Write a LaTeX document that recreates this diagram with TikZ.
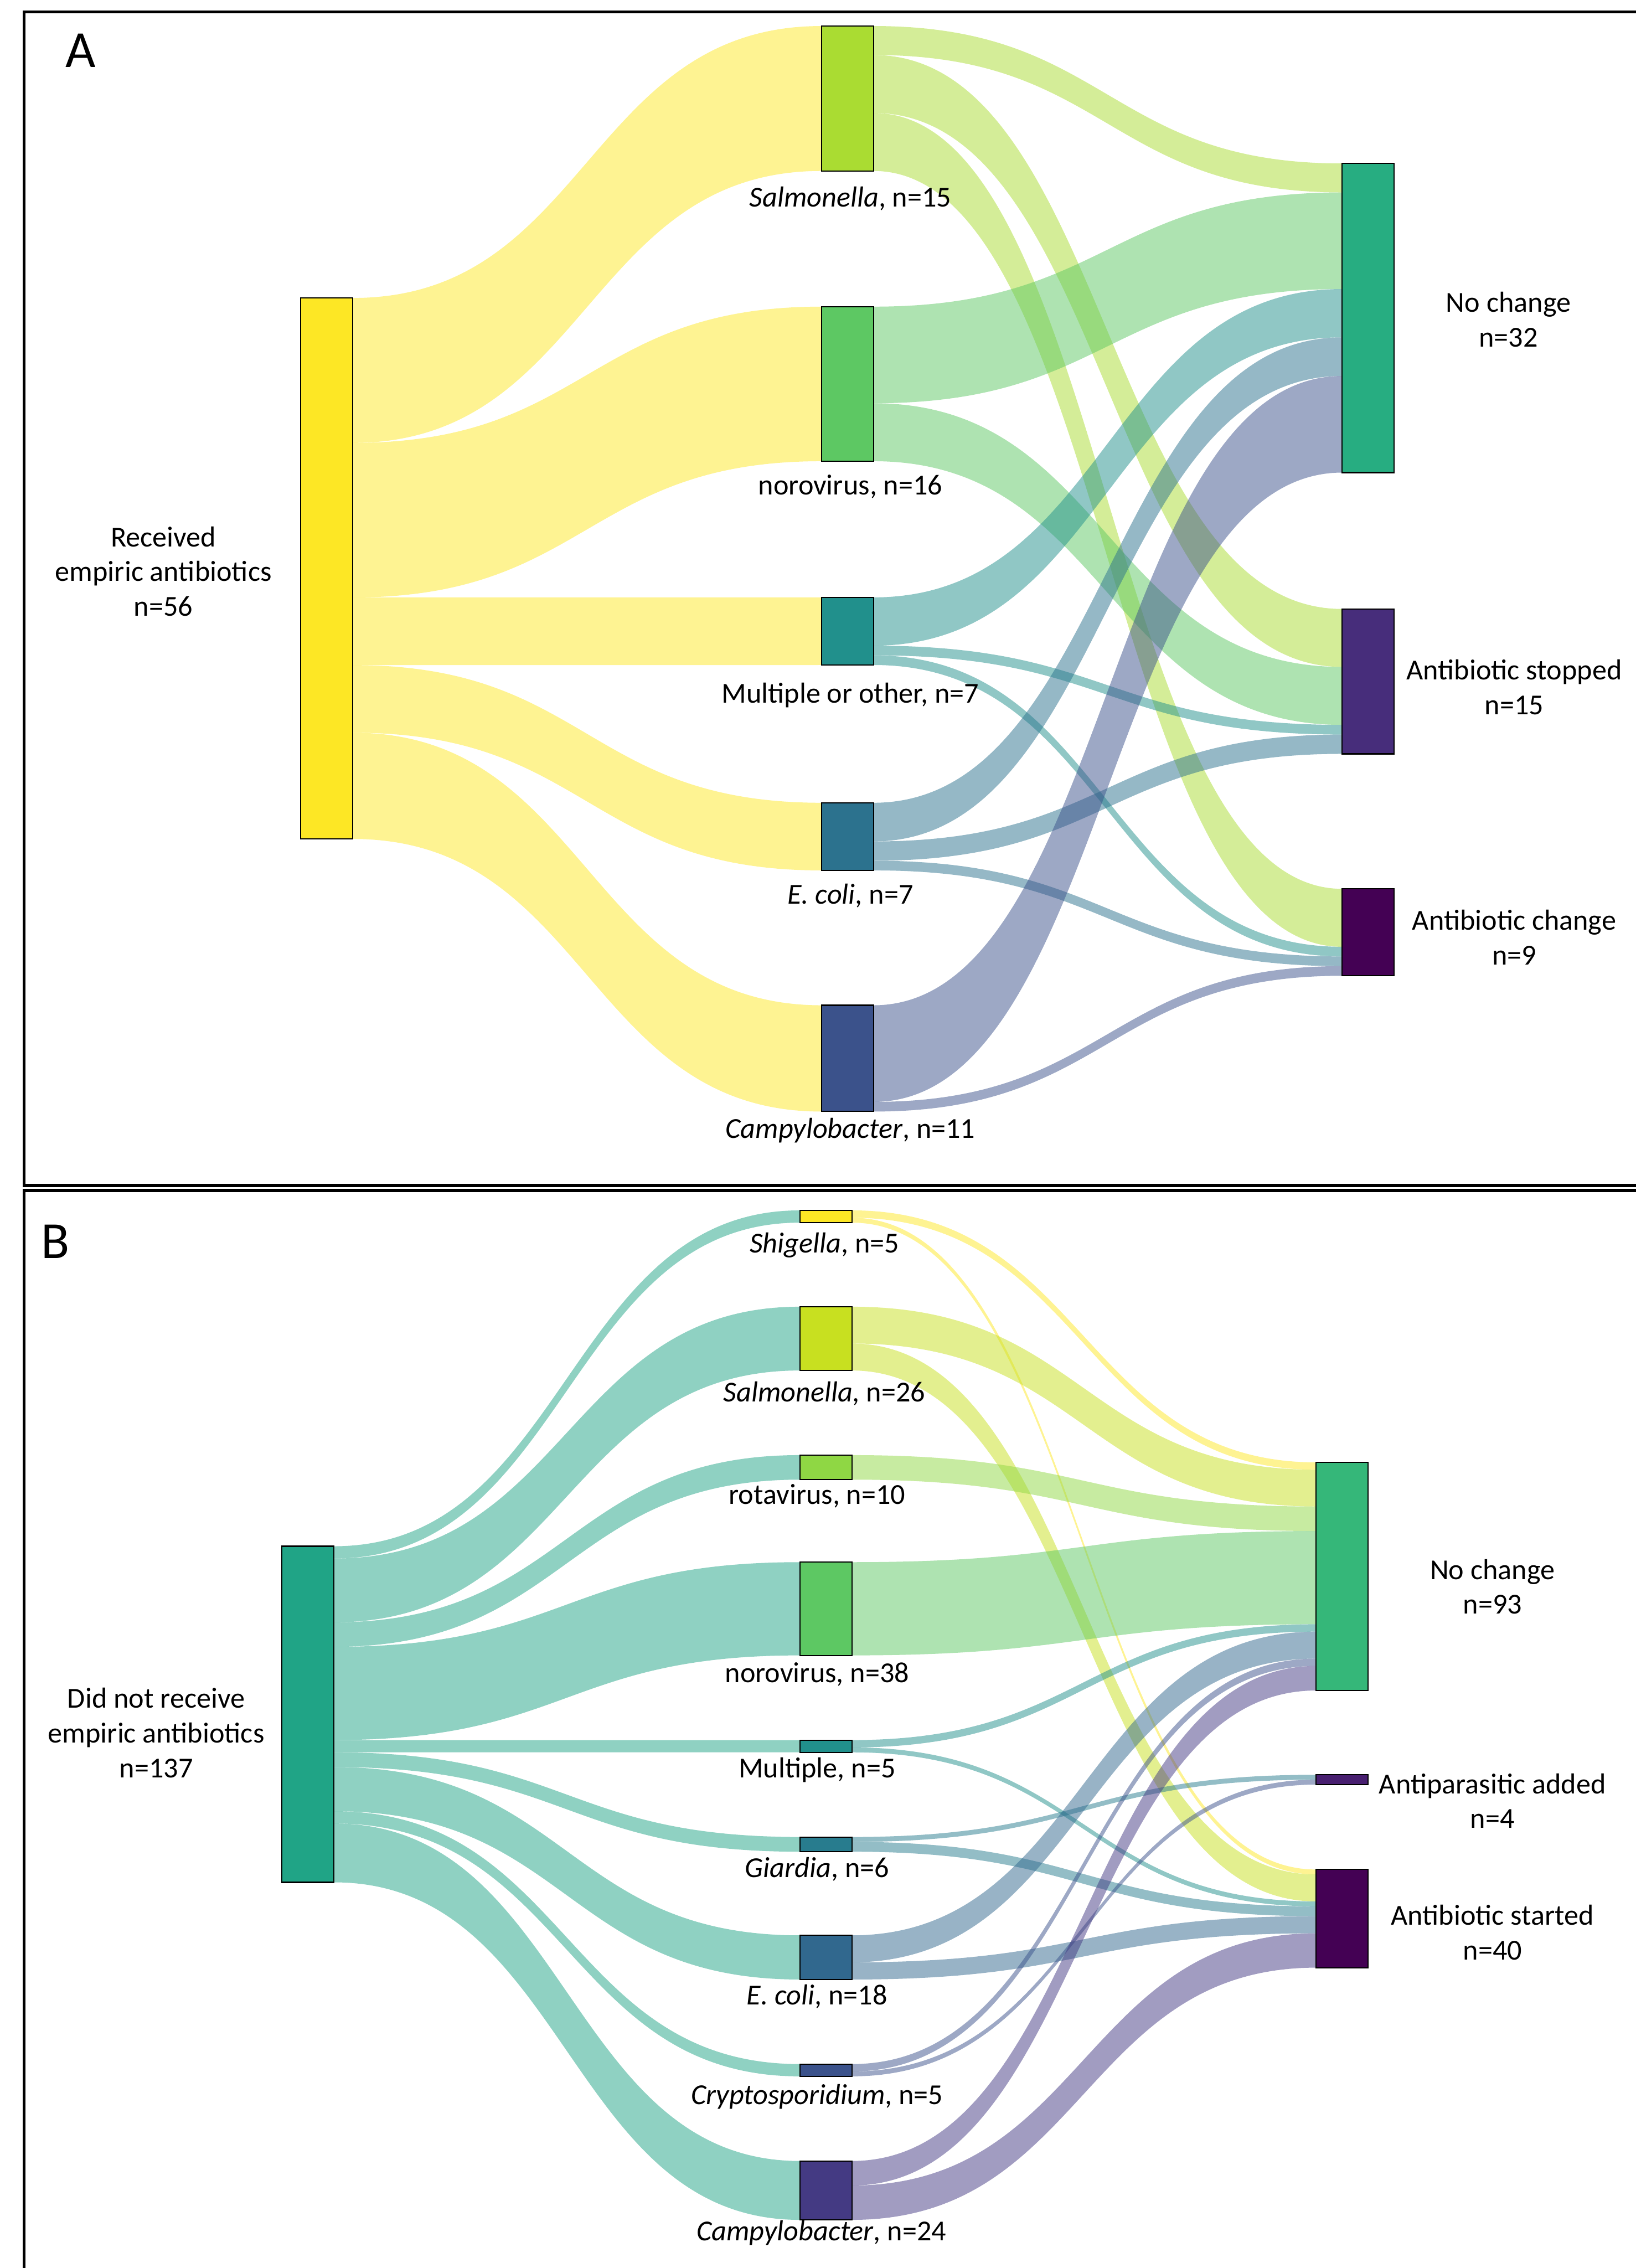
\documentclass[tikz,border=0pt]{standalone}
\usepackage{fontspec}
\setmainfont{Carlito}
\usetikzlibrary{calc,backgrounds}
\definecolor{VdYellow}{HTML}{FDE725}
\definecolor{VdLime}{HTML}{AADC32}
\definecolor{VdGrass}{HTML}{5DC863}
\definecolor{VdTeal}{HTML}{21908C}
\definecolor{VdSteel}{HTML}{2C728E}
\definecolor{VdBlue}{HTML}{3B528B}
\definecolor{VdSea}{HTML}{27AD81}
\definecolor{VdIndigo}{HTML}{472D7B}
\definecolor{VdPlum}{HTML}{440154}
\definecolor{VdPear}{HTML}{C8E020}
\definecolor{VdLeaf}{HTML}{8FD744}
\definecolor{VdPetrol}{HTML}{287C8E}
\definecolor{VdDenim}{HTML}{31688E}
\definecolor{VdViolet}{HTML}{443A83}
\definecolor{VdMint}{HTML}{20A486}
\definecolor{VdGreen}{HTML}{35B779}
\definecolor{VdGrape}{HTML}{481F70}
\tikzset{
  sbar/.style={draw=black,line width=0.8pt,fill=#1,minimum width=36pt,inner sep=0pt,outer sep=0pt,anchor=north west},
  lbl/.style={font=\fontsize{20}{24}\selectfont,inner sep=0pt,text height=14pt,text depth=4pt},
  sidelbl/.style={font=\fontsize{20}{24}\selectfont,inner sep=0pt,align=center},
  panelline/.style={line width=2.1pt},
  paneltag/.style={font=\fontsize{36}{40}\selectfont,inner sep=0pt,text height=23.2pt,text depth=0pt},
}
% band: colour, from node, offset, to node, offset, width (units of \ku)
\newcommand\band[6]{%
  \fill[#1,fill opacity=.5] let \p1=(#2.north east), \p2=(#4.north west) in
    (\x1,{\y1-#3*\ku}) .. controls ({(\x1+\x2)/2},{\y1-#3*\ku}) and ({(\x1+\x2)/2},{\y2-#5*\ku}) .. (\x2,{\y2-#5*\ku})
    -- (\x2,{\y2-(#5+#6)*\ku}) .. controls ({(\x1+\x2)/2},{\y2-(#5+#6)*\ku}) and ({(\x1+\x2)/2},{\y1-(#3+#6)*\ku}) .. (\x1,{\y1-(#3+#6)*\ku}) -- cycle;}

\begin{document}
\begin{tikzpicture}[x=1pt,y=-1pt]
  \useasboundingbox (0,0) rectangle (1131,1568);
  \draw[panelline] (1140,8.3) -- (16.6,8.3) -- (16.6,819.6) -- (1140,819.6);
  \draw[panelline] (1140,823.1) -- (16.6,823.1) -- (16.6,1580);
  \node[paneltag] (tagA) at (55.6,34.8) {A};
  \node[paneltag] (tagB) at (38.2,858.5) {B};

  % panel A
  \begin{scope}
    \def\ku{6.679pt}
    \node[sbar=VdYellow,minimum height=56*\ku] (recvA) at (208,206) {};
    \node[sbar=VdLime,minimum height=15*\ku] (salA) at (568,18) {};
    \node[sbar=VdGrass,minimum height=16*\ku] (noroA) at (568,212) {};
    \node[sbar=VdTeal,minimum height=7*\ku] (multA) at (568,413) {};
    \node[sbar=VdSteel,minimum height=7*\ku] (ecoliA) at (568,555) {};
    \node[sbar=VdBlue,minimum height=11*\ku] (campyA) at (568,695) {};
    \node[sbar=VdSea,minimum height=32*\ku] (ncA) at (928,113) {};
    \node[sbar=VdIndigo,minimum height=15*\ku] (stopA) at (928,421) {};
    \node[sbar=VdPlum,minimum height=9*\ku] (chgA) at (928,614.5) {};
    \begin{scope}[on background layer]
      \band{VdYellow}{recvA}{0}{salA}{0}{15}
      \band{VdYellow}{recvA}{15}{noroA}{0}{16}
      \band{VdYellow}{recvA}{31}{multA}{0}{7}
      \band{VdYellow}{recvA}{38}{ecoliA}{0}{7}
      \band{VdYellow}{recvA}{45}{campyA}{0}{11}
      \band{VdLime}{salA}{0}{ncA}{0}{3}
      \band{VdLime}{salA}{3}{stopA}{0}{6}
      \band{VdLime}{salA}{9}{chgA}{0}{6}
      \band{VdGrass}{noroA}{0}{ncA}{3}{10}
      \band{VdGrass}{noroA}{10}{stopA}{6}{6}
      \band{VdTeal}{multA}{0}{ncA}{13}{5}
      \band{VdTeal}{multA}{5}{stopA}{12}{1}
      \band{VdTeal}{multA}{6}{chgA}{6}{1}
      \band{VdSteel}{ecoliA}{0}{ncA}{18}{4}
      \band{VdSteel}{ecoliA}{4}{stopA}{13}{2}
      \band{VdSteel}{ecoliA}{6}{chgA}{7}{1}
      \band{VdBlue}{campyA}{0}{ncA}{22}{10}
      \band{VdBlue}{campyA}{10}{chgA}{8}{1}
    \end{scope}
    \node[sidelbl] (recvAl) at (113,395) {Received\\empiric antibiotics\\n=56};
    \node[lbl] (salAl) at (588,138) {\textit{Salmonella}, n=15};
    \node[lbl] (noroAl) at (588,337) {norovirus, n=16};
    \node[lbl] (multAl) at (588,481) {Multiple or other, n=7};
    \node[lbl] (ecoliAl) at (588,620) {\textit{E. coli}, n=7};
    \node[lbl] (campyAl) at (588,782) {\textit{Campylobacter}, n=11};
    \node[sidelbl] (ncAl) at (1043,221) {No change\\n=32};
    \node[sidelbl] (stopAl) at (1047,475) {Antibiotic stopped\\n=15};
    \node[sidelbl] (chgAl) at (1047,648) {Antibiotic change\\n=9};
  \end{scope}

  % panel B
  \begin{scope}
    \def\ku{1.696pt}
    \node[sbar=VdMint,minimum height=137*\ku] (recvB) at (195,1069) {};
    \node[sbar=VdYellow,minimum height=5*\ku] (shigB) at (553,836.8) {};
    \node[sbar=VdPear,minimum height=26*\ku] (salB) at (553,903.4) {};
    \node[sbar=VdLeaf,minimum height=10*\ku] (rotaB) at (553,1006) {};
    \node[sbar=VdGrass,minimum height=38*\ku] (noroB) at (553,1080) {};
    \node[sbar=VdTeal,minimum height=5*\ku] (multB) at (553,1203) {};
    \node[sbar=VdPetrol,minimum height=6*\ku] (giarB) at (553,1270) {};
    \node[sbar=VdDenim,minimum height=18*\ku] (ecoliB) at (553,1338) {};
    \node[sbar=VdBlue,minimum height=5*\ku] (cryptB) at (553,1427) {};
    \node[sbar=VdViolet,minimum height=24*\ku] (campyB) at (553,1494) {};
    \node[sbar=VdGreen,minimum height=93*\ku] (ncB) at (910,1011) {};
    \node[sbar=VdGrape,minimum height=4*\ku] (antiB) at (910,1227) {};
    \node[sbar=VdPlum,minimum height=40*\ku] (startB) at (910,1292.5) {};
    \begin{scope}[on background layer]
      \band{VdMint}{recvB}{0}{shigB}{0}{5}
      \band{VdMint}{recvB}{5}{salB}{0}{26}
      \band{VdMint}{recvB}{31}{rotaB}{0}{10}
      \band{VdMint}{recvB}{41}{noroB}{0}{38}
      \band{VdMint}{recvB}{79}{multB}{0}{5}
      \band{VdMint}{recvB}{84}{giarB}{0}{6}
      \band{VdMint}{recvB}{90}{ecoliB}{0}{18}
      \band{VdMint}{recvB}{108}{cryptB}{0}{5}
      \band{VdMint}{recvB}{113}{campyB}{0}{24}
      \band{VdYellow}{shigB}{0}{ncB}{0}{3}
      \band{VdYellow}{shigB}{3}{startB}{0}{2}
      \band{VdPear}{salB}{0}{ncB}{3}{15}
      \band{VdPear}{salB}{15}{startB}{2}{11}
      \band{VdLeaf}{rotaB}{0}{ncB}{18}{10}
      \band{VdGrass}{noroB}{0}{ncB}{28}{38}
      \band{VdTeal}{multB}{0}{ncB}{66}{3}
      \band{VdTeal}{multB}{3}{startB}{13}{2}
      \band{VdPetrol}{giarB}{0}{antiB}{0}{2}
      \band{VdPetrol}{giarB}{2}{startB}{15}{4}
      \band{VdDenim}{ecoliB}{0}{ncB}{69}{11}
      \band{VdDenim}{ecoliB}{11}{startB}{19}{7}
      \band{VdBlue}{cryptB}{0}{ncB}{80}{3}
      \band{VdBlue}{cryptB}{3}{antiB}{2}{2}
      \band{VdViolet}{campyB}{0}{ncB}{83}{10}
      \band{VdViolet}{campyB}{10}{startB}{26}{14}
    \end{scope}
    \node[sidelbl] (recvBl) at (108,1198) {Did not receive\\empiric antibiotics\\n=137};
    \node[lbl] (shigBl) at (570,861) {\textit{Shigella}, n=5};
    \node[lbl] (salBl) at (570,964) {\textit{Salmonella}, n=26};
    \node[lbl] (rotaBl) at (565,1035) {rotavirus, n=10};
    \node[lbl] (noroBl) at (565,1158) {norovirus, n=38};
    \node[lbl] (multBl) at (565,1224) {Multiple, n=5};
    \node[lbl] (giarBl) at (565,1293) {\textit{Giardia}, n=6};
    \node[lbl] (ecoliBl) at (565,1381) {\textit{E. coli}, n=18};
    \node[lbl] (cryptBl) at (565,1450) {\textit{Cryptosporidium}, n=5};
    \node[lbl] (campyBl) at (568,1544) {\textit{Campylobacter}, n=24};
    \node[sidelbl] (ncBl) at (1032,1097) {No change\\n=93};
    \node[sidelbl] (antiBl) at (1032,1245) {Antiparasitic added\\n=4};
    \node[sidelbl] (startBl) at (1032,1336) {Antibiotic started\\n=40};
  \end{scope}
\end{tikzpicture}
\end{document}
